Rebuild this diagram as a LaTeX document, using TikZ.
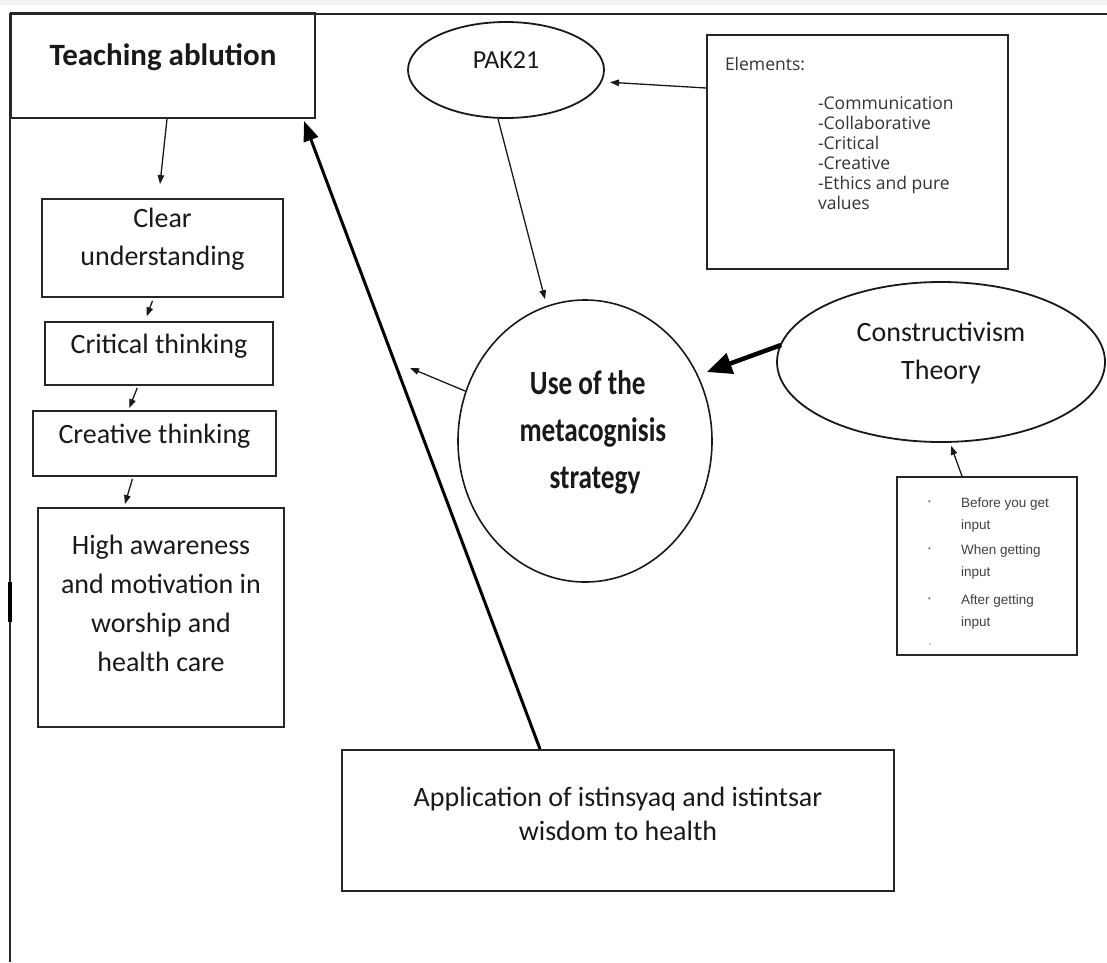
\documentclass[tikz,border=0pt]{standalone}
\usepackage{fontspec}
\setmainfont{Carlito}
\newfontfamily\metafont[FakeStretch=0.8]{Carlito}
\newfontfamily\osfont{Open Sans}
\newfontfamily\arfont{Liberation Sans}
\usetikzlibrary{shapes.geometric,arrows.meta}
% \boxtext{width}{height}{first baseline from top}{text}
\newcommand\boxtext[4]{\parbox[c][#2pt][t]{#1pt}{\centering\rule{0pt}{#3pt}#4}}
\newcommand\dotb{\makebox[33pt][l]{\raisebox{3pt}{\color{black!55}\fontsize{8}{8}\selectfont\textbullet}}}
\begin{document}
\begin{tikzpicture}[x=1pt,y=-1pt,
  box/.style={draw=black!85, line width=2pt, inner sep=0pt, rectangle, text=black!90},
  oval/.style={draw=black!90, line width=1.8pt, inner sep=0pt, ellipse, text=black!90},
  arr/.style={-{Triangle[length=9pt,width=6.5pt]}, line width=1.3pt, draw=black!90},
  bigarr/.style={-{Triangle[length=20pt,width=15pt]}, line width=3pt},
  hugearr/.style={-{Triangle[length=25pt,width=21pt]}, line width=4.5pt},
]
\useasboundingbox (0,0) rectangle (1107,962);
\fill[black!5] (0,0) rectangle (1107,5);
\draw[line width=2pt, black!85] (10,962) -- (10,14) -- (1107,14);
\draw[line width=3.5pt] (10,582) -- (10,622);

% left column
\node[box, font=\fontsize{31}{36}\selectfont\bfseries] (ta) at (163,65.5)
  {\boxtext{304}{105}{52}{Teaching ablution}};
\node[box, font=\fontsize{28}{38}\selectfont] (cu) at (162.5,248)
  {\boxtext{241}{98}{28}{Clear\\understanding}};
\node[box, font=\fontsize{28}{38}\selectfont] (ct) at (159,353.5)
  {\boxtext{228}{63}{31}{Critical thinking}};
\node[box, font=\fontsize{28}{38}\selectfont] (cr) at (154.5,443.5)
  {\boxtext{243}{65}{32}{Creative thinking}};
\node[box, font=\fontsize{28}{39}\selectfont] (ha) at (161,617.5)
  {\boxtext{246}{219}{46}{High awareness\\and motivation in\\worship and\\health care}};

% bottom
\node[box, font=\fontsize{28}{34}\selectfont] (ap) at (618,820.5)
  {\boxtext{552}{141}{56}{Application of istinsyaq and istintsar\\wisdom to health}};

% ovals
\node[oval, minimum width=196pt, minimum height=96pt, font=\fontsize{26}{30}\selectfont] (pak) at (506,70)
  {\boxtext{138}{67}{32}{PAK21}};
\node[oval, line width=1.6pt, minimum width=254pt, minimum height=282pt, font=\metafont\bfseries\fontsize{34}{47}\selectfont] (me) at (585,441)
  {\parbox[c][199pt][t]{179pt}{\leftskip=20pt plus 1fil\rightskip=0pt plus 1fil\parfillskip=0pt\rule{0pt}{53pt}Use of the\\metacognisis\\strategy}};
\node[oval, minimum width=328pt, minimum height=160pt, font=\fontsize{28}{38}\selectfont] (co) at (941,362)
  {\boxtext{231}{113}{36}{Constructivism\\Theory}};

% elements box
\node[box, text=black!80, font=\osfont\fontsize{17.5}{20}\selectfont] (el) at (857.5,152)
  {\parbox[c][234pt][t]{301pt}{\raggedright\rule{0pt}{35pt}\hspace*{18pt}Elements:\\[19pt]
   \hspace*{111pt}-Communication\\
   \hspace*{111pt}-Collaborative\\
   \hspace*{111pt}-Critical\\
   \hspace*{111pt}-Creative\\
   \hspace*{111pt}-Ethics and pure\\
   \hspace*{111pt}values}};

% bullets box
\node[box, line width=1.6pt, text=black!75, font=\arfont\fontsize{13.5}{22}\selectfont] (bu) at (987,566)
  {\parbox[c][178pt][t]{180pt}{\raggedright\rule{0pt}{30pt}\hspace*{31pt}\dotb Before you get\\
   \hspace*{64pt}input\\[3pt]
   \hspace*{31pt}\dotb When getting\\
   \hspace*{64pt}input\\[6pt]
   \hspace*{31pt}\dotb After getting\\
   \hspace*{64pt}input\\[-2pt]
   \hspace*{32pt}{\color{black!40}\fontsize{6}{6}\selectfont\textbullet}}};

% connectors
\coordinate (mtip) at (410,368);
\draw[arr, shorten >=14pt] ([xshift=4pt]ta.south) -- ([xshift=-4pt]cu.north);
\draw[arr, shorten <=3pt, shorten >=5pt] ([xshift=-9pt]cu.south) -- ([xshift=-14pt]ct.north);
\draw[arr, shorten <=2pt, shorten >=2pt] ([xshift=-21pt]ct.south) -- ([xshift=-26pt]cr.north);
\draw[arr, shorten <=2pt, shorten >=3pt] ([xshift=-21.5pt]cr.south) -- ([xshift=-37pt]ha.north);
\draw[arr] (me) -- (mtip);
\draw[arr, shorten >=8pt] ([yshift=64pt]el.west) -- (pak.-7);
\draw[arr] ([xshift=-8pt]pak.south) -- ([xshift=-40pt]me.north);
\draw[hugearr] ([shift={(5,-17)}]co.west) -- ([shift={(-6,-69)}]me.east);
\draw[arr, shorten >=3pt] ([xshift=-25pt]bu.north) -- ([xshift=9pt]co.south);
\draw[bigarr] ([xshift=-78pt]ap.north) -- ([shift={(-12,2)}]ta.south east);
\end{tikzpicture}
\end{document}
